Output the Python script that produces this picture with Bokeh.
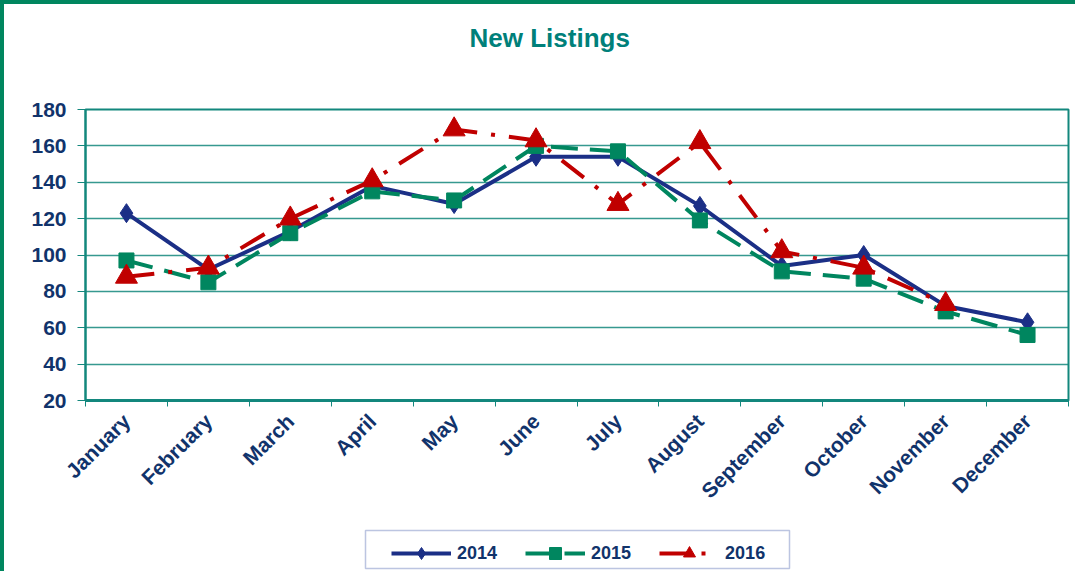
import numpy as np
from bokeh.plotting import figure
from bokeh.layouts import column
from bokeh.models import (Range1d, FixedTicker, Legend, LegendItem,
                          ColumnDataSource, Label, BoxAnnotation)
from bokeh.embed import file_html
from bokeh.resources import INLINE

months = ["January", "February", "March", "April", "May", "June", "July",
          "August", "September", "October", "November", "December"]
y2014 = [123, 92, 113, 138, 128, 154, 154, 127, 94, 100, 72, 63]
y2015 = [97, 85, 112, 135, 130, 160, 157, 119, 91, 87, 69, 56]
y2016 = [88, 93, 120, 141, 169, 163, 128, 162, 102, 93, 73]
y_ticks = [20, 40, 60, 80, 100, 120, 140, 160, 180]
series_names = ["2014", "2015", "2016"]

NAVY = "#1B2F86"
GREEN = "#00865F"
RED = "#C00000"
TEAL = "#13877D"
TXT = "#11336B"
FONT = "Liberation Sans"
W = 1071

xs = [i + 0.5 for i in range(len(months))]
s14 = ColumnDataSource(dict(x=xs, y=y2014))
s15 = ColumnDataSource(dict(x=xs, y=y2015))
s16 = ColumnDataSource(dict(x=xs[:len(y2016)], y=y2016))


def add_series(fig):
    l14 = fig.line("x", "y", source=s14, line_color=NAVY, line_width=4)
    m14 = fig.scatter("x", "y", source=s14, marker="diamond", size=19,
                      fill_color=NAVY, line_color=NAVY)
    l15 = fig.line("x", "y", source=s15, line_color=GREEN, line_width=4,
                   line_dash="27 12")
    m15 = fig.scatter("x", "y", source=s15, marker="square", size=15,
                      fill_color=GREEN, line_color=GREEN)
    l16 = fig.line("x", "y", source=s16, line_color=RED, line_width=4,
                   line_dash="28 14 4 14")
    m16 = fig.scatter("x", "y", source=s16, marker="triangle", size=22,
                      fill_color=RED, line_color=RED)
    return [[l14, m14], [l15, m15], [l16, m16]]


# ---- title strip ----
tf = figure(width=W, height=95, output_backend="svg", toolbar_location=None,
            x_range=Range1d(0, W), y_range=Range1d(0, 95),
            x_axis_type=None, y_axis_type=None, min_border=0,
            frame_align=False)
tf.outline_line_color = None
tf.grid.visible = False
tf.add_layout(Label(x=465, y=62, text="New Listings", text_font=FONT,
                    text_font_size="26px", text_font_style="bold",
                    text_color="#00807A", text_baseline="alphabetic"))

# ---- main chart ----
p = figure(width=W, height=417, output_backend="svg", toolbar_location=None,
           x_range=Range1d(0, 12), y_range=Range1d(20, 180),
           min_border_left=81, min_border_right=7, min_border_top=10,
           min_border_bottom=116, frame_align=False)

p.outline_line_color = TEAL
p.outline_line_width = 2
p.xgrid.visible = False
p.ygrid.grid_line_color = TEAL
p.ygrid.grid_line_width = 1.5
p.ygrid.grid_line_alpha = 0.85

p.yaxis.ticker = FixedTicker(ticks=y_ticks)
p.yaxis.axis_line_color = TEAL
p.yaxis.axis_line_width = 2
p.yaxis.major_tick_line_color = TEAL
p.yaxis.major_tick_out = 8
p.yaxis.major_tick_in = 0
p.yaxis.minor_tick_line_color = None
p.yaxis.major_label_text_font = FONT
p.yaxis.major_label_text_font_size = "21px"
p.yaxis.major_label_text_font_style = "bold"
p.yaxis.major_label_text_color = TXT
p.yaxis.major_label_standoff = 11

p.xaxis.ticker = FixedTicker(ticks=xs, minor_ticks=list(range(13)))
p.xaxis.major_label_overrides = {x: m for x, m in zip(xs, months)}
p.xaxis.axis_line_color = TEAL
p.xaxis.axis_line_width = 3
p.xaxis.major_tick_line_color = None
p.xaxis.major_tick_out = 0
p.xaxis.major_tick_in = 0
p.xaxis.minor_tick_line_color = TEAL
p.xaxis.minor_tick_out = 6
p.xaxis.minor_tick_in = 0
p.xaxis.major_label_orientation = np.pi / 4
p.xaxis.major_label_text_font = FONT
p.xaxis.major_label_text_font_size = "21px"
p.xaxis.major_label_text_font_style = "bold"
p.xaxis.major_label_text_color = TXT
p.xaxis.major_label_standoff = 11

add_series(p)

# ---- legend strip (same series, drawn out of view; only the legend shows) ----
lf = figure(width=W, height=55, output_backend="svg", toolbar_location=None,
            x_range=Range1d(0, W), y_range=Range1d(-400, -345),
            x_axis_type=None, y_axis_type=None, min_border=0,
            frame_align=False)
lf.outline_line_color = None
lf.grid.visible = False
rends = add_series(lf)
lf.add_layout(BoxAnnotation(left=361, right=785, bottom=3, top=41,
                            left_units="screen", right_units="screen",
                            bottom_units="screen", top_units="screen",
                            fill_alpha=0, line_color="#203F9A", line_width=1.5))
legend = Legend(items=[LegendItem(label=n, renderers=r)
                       for n, r in zip(series_names, rends)],
                orientation="horizontal", location=(387, 3))
legend.glyph_width = 60
legend.glyph_height = 30
legend.label_text_font = FONT
legend.label_text_font_size = "18px"
legend.label_text_font_style = "bold"
legend.label_text_color = TXT
legend.label_width = 40
legend.border_line_color = None
legend.background_fill_alpha = 0
legend.spacing = 28
legend.padding = 4
legend.margin = 0
legend.label_standoff = 6
lf.add_layout(legend, "center")

layout = column(tf, p, lf, spacing=0,
                styles={"border-left": "4px solid #00865F",
                        "border-top": "4px solid #00865F"})

open("out.html", "w").write(file_html(layout, INLINE))
